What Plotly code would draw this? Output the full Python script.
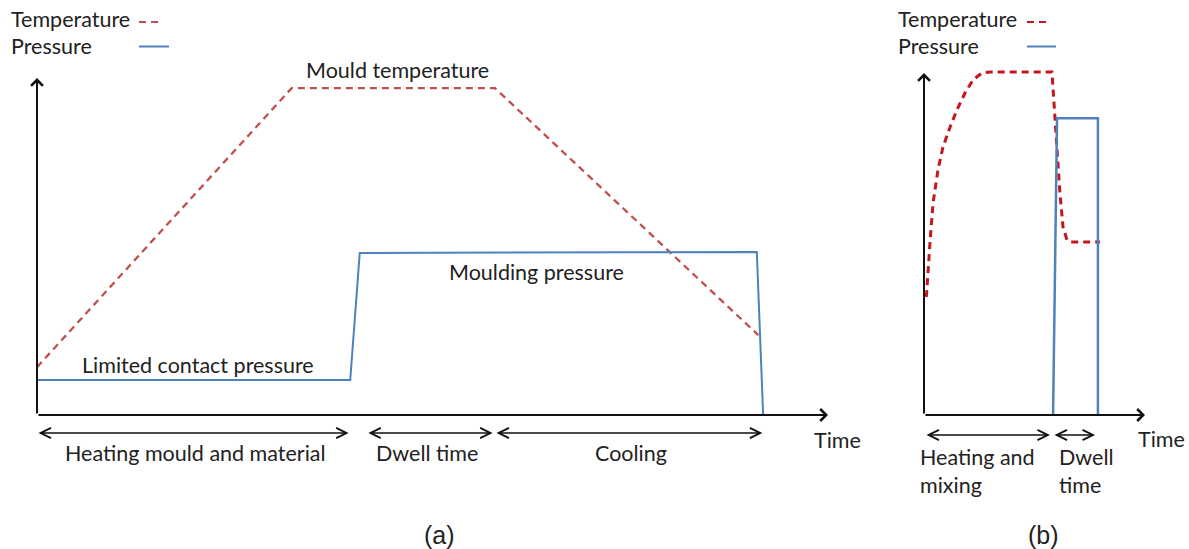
import plotly.graph_objects as go

W, H = 1189, 549

# ---------------- Panel (a) data (arbitrary time / value units) ----------------
temp_a_t = [0, 32.2, 57.9, 91.2]
temp_a_v = [14.2, 97.0, 97.0, 23.7]
press_a_t = [0, 39.6, 40.8, 91.0, 91.8]
press_a_v = [10.4, 10.4, 48.1, 48.4, 0]

# phase arrows (start, end) and labels for panel (a)
phases_a = [(0, 39.4), (41.7, 57.6), (57.9, 91.7)]
phase_labels_a = ["Heating mould and material", "Dwell time", "Cooling"]
phase_label_t_a = [20.0, 49.3, 75.1]

# ---------------- Panel (b) data ----------------
temp_b_t = [1.0, 1.2, 2.7, 4.1, 6.3, 8.6, 11.8, 14.9, 18.6, 22.2, 26.2, 29.9,
            57.9, 59.3, 61.5, 62.9, 64.7, 66.1, 79.6]
temp_b_v = [34.5, 35.7, 50.3, 62.0, 71.6, 78.4, 84.2, 89.2, 94.2, 98.0, 100.0, 100.3,
            100.3, 87.1, 64.9, 55.0, 51.2, 50.6, 50.6]
press_b_t = [58.4, 60.2, 78.7, 78.7]
press_b_v = [0, 86.8, 86.8, 0]

phases_b = [(0.45, 57.0), (58.4, 77.4)]

# ---------------- styling ----------------
FONT = "Lato"
TXT = "#222222"
FS = 21.5
RED_A = "#C0504D"
RED_B = "#C4161C"
BLUE = "#4F81BD"

# panel (a): origin at px (37,415), 7.91 px per time unit, 3.37 px per value unit
ax_a = dict(x0=37, y0=415, sx=7.91, sy=3.37)
# panel (b): origin at px (924,415), 2.21 px per time unit, 3.42 px per value unit
ax_b = dict(x0=924, y0=415, sx=2.21, sy=3.42)

split = 880


def xr(g, p0, p1):
    return [(p0 - g["x0"]) / g["sx"], (p1 - g["x0"]) / g["sx"]]


def yr(g):
    return [(g["y0"] - H) / g["sy"], g["y0"] / g["sy"]]


fig = go.Figure()

fig.add_trace(go.Scatter(x=temp_a_t, y=temp_a_v, mode="lines", xaxis="x", yaxis="y",
                         line=dict(color=RED_A, width=2.3, dash="7px,5px"), showlegend=False))
fig.add_trace(go.Scatter(x=press_a_t, y=press_a_v, mode="lines", xaxis="x", yaxis="y",
                         line=dict(color=BLUE, width=2), showlegend=False))
fig.add_trace(go.Scatter(x=temp_b_t, y=temp_b_v, mode="lines", xaxis="x2", yaxis="y2",
                         line=dict(color=RED_B, width=3, dash="7px,5px"), showlegend=False))
fig.add_trace(go.Scatter(x=press_b_t, y=press_b_v, mode="lines", xaxis="x2", yaxis="y2",
                         line=dict(color=BLUE, width=2.5), showlegend=False))

hidden = dict(showgrid=False, zeroline=False, showticklabels=False, showline=False,
              ticks="", fixedrange=True)

fig.update_layout(
    width=W, height=H,
    margin=dict(l=0, r=0, t=0, b=0),
    paper_bgcolor="white", plot_bgcolor="white",
    font=dict(family=FONT, size=FS, color=TXT),
    xaxis=dict(domain=[0, split / W], range=xr(ax_a, 0, split), **hidden),
    yaxis=dict(domain=[0, 1], range=yr(ax_a), **hidden),
    xaxis2=dict(domain=[split / W, 1], range=xr(ax_b, split, W), anchor="y2", **hidden),
    yaxis2=dict(domain=[0, 1], range=yr(ax_b), anchor="x2", **hidden),
)

ann = []


def arrow(xref, yref, x, y, ax, ay, width=2, head=4, size=1.0, both=False):
    ann.append(dict(xref=xref, yref=yref, axref=xref, ayref=yref,
                    x=x, y=y, ax=ax, ay=ay, text="", showarrow=True,
                    arrowhead=head, startarrowhead=head, arrowsize=size,
                    startarrowsize=size, arrowwidth=width, arrowcolor="#111111",
                    arrowside="end+start" if both else "end",
                    standoff=0, startstandoff=0))


def text(xref, yref, x, y, s, xanchor="center", size=FS, family=FONT):
    ann.append(dict(xref=xref, yref=yref, x=x, y=y, text=s, showarrow=False,
                    xanchor=xanchor, yanchor="middle",
                    font=dict(size=size, family=family, color=TXT)))


# axes of panel (a)
arrow("x", "y", 0, (415 - 78) / ax_a["sy"], 0, 0, width=2, size=1.15)
arrow("x", "y", (828 - 37) / ax_a["sx"], 0, 0, 0, width=2, size=1.15)
# axes of panel (b)
arrow("x2", "y2", 0, (415 - 73) / ax_b["sy"], 0, 0, width=2, size=1.15)
arrow("x2", "y2", (1145 - 924) / ax_b["sx"], 0, 0, 0, width=2, size=1.15)

# phase arrows
ya = (415 - 433) / ax_a["sy"]
for (s, e) in phases_a:
    arrow("x", "y", e, ya, s, ya, width=1.3, head=5, size=1.55, both=True)
yb = (415 - 435) / ax_b["sy"]
for (s, e) in phases_b:
    arrow("x2", "y2", e, yb, s, yb, width=1.3, head=5, size=1.55, both=True)

# phase labels (a)
yl = (415 - 453) / ax_a["sy"]
for t, s in zip(phase_label_t_a, phase_labels_a):
    text("x", "y", t, yl, s)
# phase labels (b)
text("x2", "y2", (918 - 924) / ax_b["sx"], (415 - 457) / ax_b["sy"], "Heating and", "left")
text("x2", "y2", (918 - 924) / ax_b["sx"], (415 - 485) / ax_b["sy"], "mixing", "left")
text("x2", "y2", (1057 - 924) / ax_b["sx"], (415 - 457) / ax_b["sy"], "Dwell", "left")
text("x2", "y2", (1057 - 924) / ax_b["sx"], (415 - 485) / ax_b["sy"], "time", "left")

# curve labels (a)
text("x", "y", (397 - 37) / ax_a["sx"], (415 - 70) / ax_a["sy"], "Mould temperature")
text("x", "y", (536 - 37) / ax_a["sx"], (415 - 272) / ax_a["sy"], "Moulding pressure")
text("x", "y", (198 - 37) / ax_a["sx"], (415 - 365) / ax_a["sy"], "Limited contact pressure")

# "Time" axis titles
text("x", "y", (812 - 37) / ax_a["sx"], (415 - 440) / ax_a["sy"], "Time", "left")
text("x2", "y2", (1136 - 924) / ax_b["sx"], (415 - 439) / ax_b["sy"], "Time", "left")

# panel captions
text("paper", "paper", 439 / W, 1 - 535 / H, "(a)", size=25, family="Liberation Sans")
text("paper", "paper", 1043 / W, 1 - 535 / H, "(b)", size=25, family="Liberation Sans")

# custom legends (text left, key right)
for lx in (9, 896):
    text("paper", "paper", lx / W, 1 - 19 / H, "Temperature", "left")
    text("paper", "paper", lx / W, 1 - 46 / H, "Pressure", "left")

fig.update_layout(annotations=ann)

shapes = [
    dict(type="line", xref="paper", yref="paper", x0=139 / W, x1=163 / W, y0=1 - 22 / H, y1=1 - 22 / H,
         line=dict(color=RED_A, width=2, dash="7px,5px")),
    dict(type="line", xref="paper", yref="paper", x0=139 / W, x1=169 / W, y0=1 - 46.5 / H, y1=1 - 46.5 / H,
         line=dict(color=BLUE, width=2)),
    dict(type="line", xref="paper", yref="paper", x0=1027 / W, x1=1050 / W, y0=1 - 22 / H, y1=1 - 22 / H,
         line=dict(color=RED_B, width=2, dash="7px,5px")),
    dict(type="line", xref="paper", yref="paper", x0=1027 / W, x1=1056 / W, y0=1 - 46.5 / H, y1=1 - 46.5 / H,
         line=dict(color=BLUE, width=2)),
]
fig.update_layout(shapes=shapes)

fig.write_html("out.html")
